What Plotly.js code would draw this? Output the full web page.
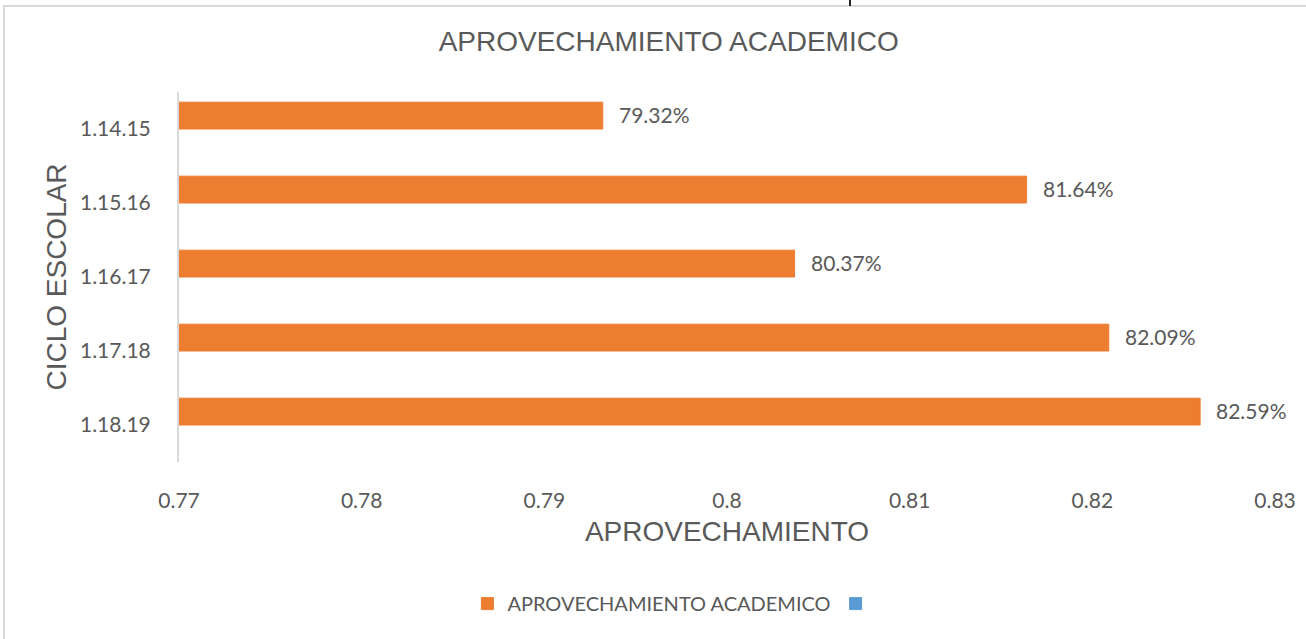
<!DOCTYPE html>
<html>
<head>
<meta charset="utf-8">
<script src="https://cdn.plot.ly/plotly-3.0.1.min.js"></script>
<style>
  html, body { margin: 0; padding: 0; background: #fff; }
  #chart { position: absolute; left: 0; top: 0; width: 1306px; height: 639px; }
  #frame { position: absolute; left: 3px; top: 5px; width: 1310px; height: 640px; border: 2px solid #d9d9d9; box-sizing: border-box; pointer-events: none; }
  #mark { position: absolute; left: 849px; top: 0; width: 2px; height: 6px; background: #222; }
</style>
</head>
<body>
<div id="chart"></div>
<div id="frame"></div>
<div id="mark"></div>
<script>
const categories = ["1.14.15", "1.15.16", "1.16.17", "1.17.18", "1.18.19"];
const values = [0.7932, 0.8164, 0.8037, 0.8209, 0.8259];
const labels = ["79.32%", "81.64%", "80.37%", "82.09%", "82.59%"];
const seriesName = "APROVECHAMIENTO ACADEMICO";
const emptySeries = [null, null, null, null, null];
const xTicks = [0.77, 0.78, 0.79, 0.8, 0.81, 0.82, 0.83];
const xTickText = ["0.77", "0.78", "0.79", "0.8", "0.81", "0.82", "0.83"];

const gray = "#595959";
const tickFont = { family: "Lato, 'Open Sans', sans-serif", size: 21, color: gray };
const titleFont = { family: "'Liberation Sans', Arial, sans-serif", size: 28, color: gray };

const traces = [
  {
    type: "bar", orientation: "h", name: seriesName,
    x: values, y: categories,
    marker: { color: "#ED7D31", line: { color: "#ED7D31", width: 1 } },
    hoverinfo: "skip"
  },
  {
    type: "bar", orientation: "h", name: "",
    x: emptySeries, y: categories,
    marker: { color: "#5B9BD5", line: { color: "#5B9BD5", width: 1 } }, hoverinfo: "skip"
  }
];

const annotations = values.map((v, i) => ({
  x: v, y: categories[i], xref: "x", yref: "y",
  text: labels[i], showarrow: false,
  xanchor: "left", yanchor: "middle", xshift: 14, yshift: 15,
  font: tickFont
}));

const layout = {
  width: 1306, height: 639,
  paper_bgcolor: "rgba(0,0,0,0)", plot_bgcolor: "rgba(0,0,0,0)",
  margin: { l: 179, r: 31, t: 92, b: 177 },
  barmode: "group", bargap: 0.275, bargroupgap: 0,
  title: {
    text: "APROVECHAMIENTO ACADEMICO",
    font: titleFont,
    x: 0.512, xanchor: "center", y: 0.935, yanchor: "middle"
  },
  xaxis: {
    range: [0.77, 0.83], tickvals: xTicks, ticktext: xTickText,
    showgrid: false, zeroline: false, showline: false, ticks: "",
    ticklabelstandoff: 24,
    tickfont: tickFont,
    title: { text: "APROVECHAMIENTO", standoff: 10, font: titleFont }
  },
  yaxis: {
    type: "category", autorange: "reversed",
    showgrid: false, zeroline: false, showline: true, linecolor: "#d9d9d9", linewidth: 2,
    ticks: "", ticklabelstandoff: 22,
    tickfont: tickFont,
    title: { text: "CICLO ESCOLAR", standoff: 5, font: titleFont }
  },
  annotations: annotations,
  showlegend: true,
  legend: {
    orientation: "h", x: 0.452, xanchor: "center", y: -0.33, yanchor: "top",
    font: { family: "Lato, 'Open Sans', sans-serif", size: 20, color: gray },
    traceorder: "normal"
  }
};

Plotly.newPlot("chart", traces, layout, { displayModeBar: false, staticPlot: true });
</script>
</body>
</html>
